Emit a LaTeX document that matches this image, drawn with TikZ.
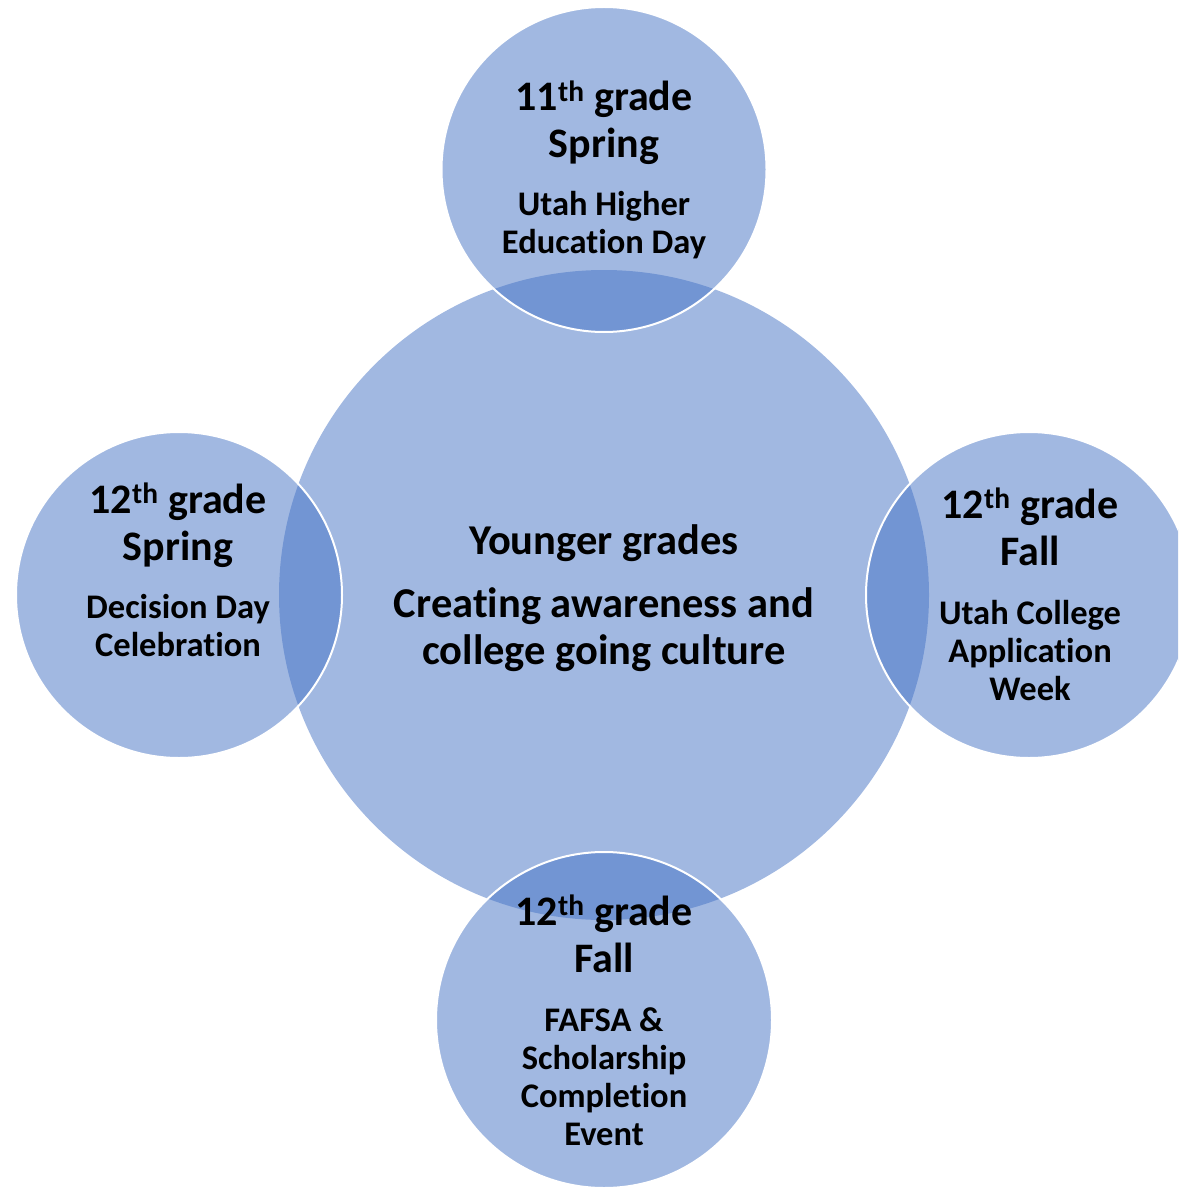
\documentclass[tikz,border=0pt]{standalone}
\usepackage{fontspec}
\setmainfont{Carlito}[Ligatures=NoCommon]
\usepackage{tikz}
\usetikzlibrary{positioning}

\definecolor{accentblue}{RGB}{68,114,196}
\newcommand\headfont{\fontsize{42}{47}\selectfont\bfseries}
\newcommand\bodyfont{\fontsize{34.5}{38}\selectfont\bfseries}
\newcommand\corefont{\fontsize{42.5}{47}\selectfont\bfseries}

\tikzset{
  corecircle/.style={circle, inner sep=0pt, fill=accentblue, fill opacity=0.5},
  phasecircle/.style={circle, inner sep=0pt, fill=accentblue, fill opacity=0.5,
    draw=white, draw opacity=1, line width=2pt},
  headtext/.style={font=\headfont, align=center, anchor=base, inner sep=0pt},
  bodytext/.style={font=\bodyfont, align=center, anchor=base, inner sep=0pt},
}

\begin{document}
\begin{tikzpicture}[x=1pt, y=-1pt]
    \useasboundingbox (0,0) rectangle (1178,1190);
    \clip (0,0) rectangle (1178,1190);

    % middle circle
    \node[corecircle, minimum size=650pt] (core) at (604,595) {};

    % outer circles
    \node[phasecircle, minimum size=325pt] (spring11) at (604,169.5) {};
    \node[phasecircle, minimum size=326pt] (spring12) at (179,595) {};
    \node[phasecircle, minimum size=326pt] (fall12) at (1029,595) {};
    \node[phasecircle, minimum size=336pt] (fafsa) at (604,1020) {};

    % texts (anchor base = last line)
    \node[font=\corefont, anchor=base, inner sep=0pt] (coretitle) at (604,554) {Younger grades};
    \node[font=\corefont, align=center, anchor=base, inner sep=0pt] (corebody) at (604,664)
        {Creating awareness and\\college going culture};

    \node[headtext] (spring11head) at (604,158) {11\textsuperscript{th} grade\\Spring};
    \node[bodytext] (spring11body) at (604,254) {Utah Higher\\Education Day};

    \node[headtext] (spring12head) at (178,560) {12\textsuperscript{th} grade\\Spring};
    \node[bodytext] (spring12body) at (178,656) {Decision Day\\Celebration};

    \node[headtext] (fall12head) at (1030,565) {12\textsuperscript{th} grade\\Fall};
    \node[bodytext] (fall12body) at (1030,700) {Utah College\\Application\\Week};

    \node[headtext] (fafsahead) at (604,972) {12\textsuperscript{th} grade\\Fall};
    \node[bodytext] (fafsabody) at (604,1145) {FAFSA \&\\Scholarship\\Completion\\Event};
\end{tikzpicture}
\end{document}
